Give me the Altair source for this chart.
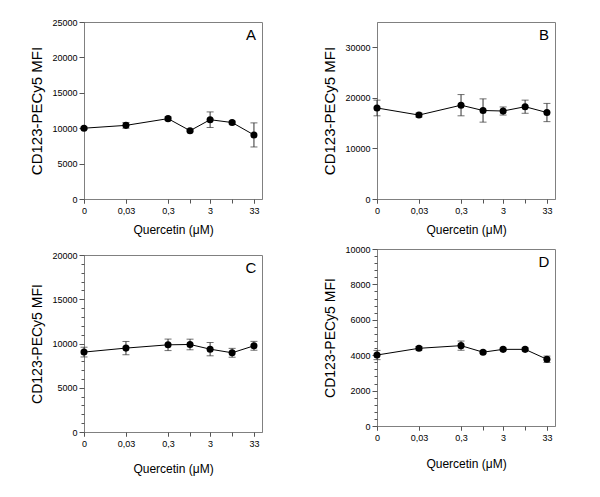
import altair as alt
import pandas as pd
import numpy as np

# concentrations (µM) and tick labels
conc = [0, 0.03, 0.3, 1, 3, 10, 33]
x_labels = ["0", "0,03", "0,3", "", "3", "", "33"]
ZERO_POS = -2.52          # where the "0" concentration sits on the log axis
X_MAX = 1.71

letters = ["A", "B", "C", "D"]

A_mean = [10000, 10400, 11350, 9650, 11200, 10800, 9050]
A_err = [150, 400, 250, 150, 1100, 200, 1700]
B_mean = [18000, 16600, 18550, 17500, 17400, 18250, 17100]
B_err = [1550, 400, 2100, 2300, 800, 1300, 1800]
C_mean = [9030, 9480, 9850, 9890, 9360, 8950, 9740]
C_err = [550, 750, 650, 600, 750, 500, 500]
D_mean = [4010, 4390, 4540, 4170, 4330, 4330, 3770]
D_err = [260, 100, 260, 80, 70, 80, 180]

y_max = [25000, 35000, 20000, 10000]
y_major = [5000, 10000, 5000, 2000]
y_minor = [5000, 10000, 1000, 400]

XT = "Quercetin (μM)"
YT = "CD123-PECy5 MFI"

xpos = [round(float(np.log10(c)), 4) if c > 0 else ZERO_POS for c in conc]
x_lab_pos = [p for p, l in zip(xpos, x_labels) if l]
x_lab_txt = [l for l in x_labels if l]

label_expr = ""
for p, lab in zip(x_lab_pos, x_lab_txt):
    label_expr += f"abs(datum.value - ({p})) < 0.01 ? '{lab}' : "
label_expr += "''"

W, H = 178, 177


def panel(letter, mean, err, ymax, major, minor, ytitle_size, xtitle_pad):
    df = pd.DataFrame({"conc": conc, "x": xpos, "mean": mean, "err": err})
    base = alt.Chart(df).transform_calculate(
        lo="datum.mean - datum.err", hi="datum.mean + datum.err"
    )
    yaxis = alt.Axis(
        values=list(range(0, ymax + 1, major)),
        tickCount=200,
        format="d",
        tickSize=5,
        grid=False,
        labelPadding=2,
        labelOverlap=False,
        titleFontSize=ytitle_size,
        titlePadding=7,
    )
    xaxis = alt.Axis(
        values=x_lab_pos,
        tickCount=200,
        labelExpr=label_expr,
        tickSize=4,
        grid=False,
        labelPadding=3,
        labelOverlap=False,
        titleFontSize=12,
        titlePadding=xtitle_pad,
        labelFlush=False,
    )
    xs = alt.Scale(domain=[ZERO_POS, X_MAX], nice=False, zero=False)
    ys = alt.Scale(domain=[0, ymax], nice=False)
    line = base.mark_line(color="black", strokeWidth=1).encode(
        x=alt.X("x:Q", scale=xs, axis=xaxis, title=XT),
        y=alt.Y("mean:Q", scale=ys, axis=yaxis, title=YT),
    )
    rule = base.mark_rule(color="#333333", strokeWidth=1).encode(
        x=alt.X("x:Q", title=XT), y=alt.Y("lo:Q", title=YT), y2="hi:Q"
    )
    cap_lo = base.mark_tick(orient="horizontal", size=7, thickness=1, color="#333333").encode(
        x=alt.X("x:Q", title=XT), y=alt.Y("lo:Q", title=YT)
    )
    cap_hi = base.mark_tick(orient="horizontal", size=7, thickness=1, color="#333333").encode(
        x=alt.X("x:Q", title=XT), y=alt.Y("hi:Q", title=YT)
    )
    pts = base.mark_point(filled=True, size=50, color="black", opacity=1).encode(
        x=alt.X("x:Q", title=XT), y=alt.Y("mean:Q", title=YT)
    )
    txt = alt.Chart(pd.DataFrame({"t": [letter]})).mark_text(
        fontSize=15, font="Liberation Sans", color="black", align="center", baseline="middle"
    ).encode(text="t:N", x=alt.value(167), y=alt.value(13))
    main = alt.layer(line, rule, cap_lo, cap_hi, pts, txt)

    # ghost layer that only carries the minor-tick axes
    ghost = base.mark_point(opacity=0).encode(
        x=alt.X("x:Q", axis=alt.Axis(values=xpos, tickCount=200, labels=False, tickSize=4,
                                     domain=False, grid=False, title=None, orient="bottom")),
        y=alt.Y("mean:Q", axis=alt.Axis(values=list(range(0, ymax + 1, minor)), tickCount=200,
                                        labels=False, tickSize=3, domain=False, grid=False,
                                        title=None, orient="left")),
    )
    return alt.layer(main, ghost).resolve_axis(x="independent", y="independent").properties(
        width=W, height=H
    )


pA = panel(letters[0], A_mean, A_err, y_max[0], y_major[0], y_minor[0], 15, 9)
pB = panel(letters[1], B_mean, B_err, y_max[1], y_major[1], y_minor[1], 15, 9)
pC = panel(letters[2], C_mean, C_err, y_max[2], y_major[2], y_minor[2], 14, 15)
pD = panel(letters[3], D_mean, D_err, y_max[3], y_major[3], y_minor[3], 14, 16)

col1 = alt.vconcat(pA, pC, spacing=14)
col2 = alt.vconcat(pB, pD, spacing=8)

chart = alt.hconcat(col1, col2, spacing=59).properties(
    padding={"left": 21, "top": 9, "right": 5, "bottom": 5}
).configure_axis(
    labelFont="Liberation Sans",
    labelFontSize=9,
    labelColor="black",
    titleFont="Liberation Sans",
    titleFontWeight="normal",
    titleColor="black",
    domainColor="#808080",
    tickColor="#555555",
).configure_view(
    stroke="#808080", strokeWidth=1
)

chart.save("out.html", embed_options={"renderer": "svg", "actions": False})
